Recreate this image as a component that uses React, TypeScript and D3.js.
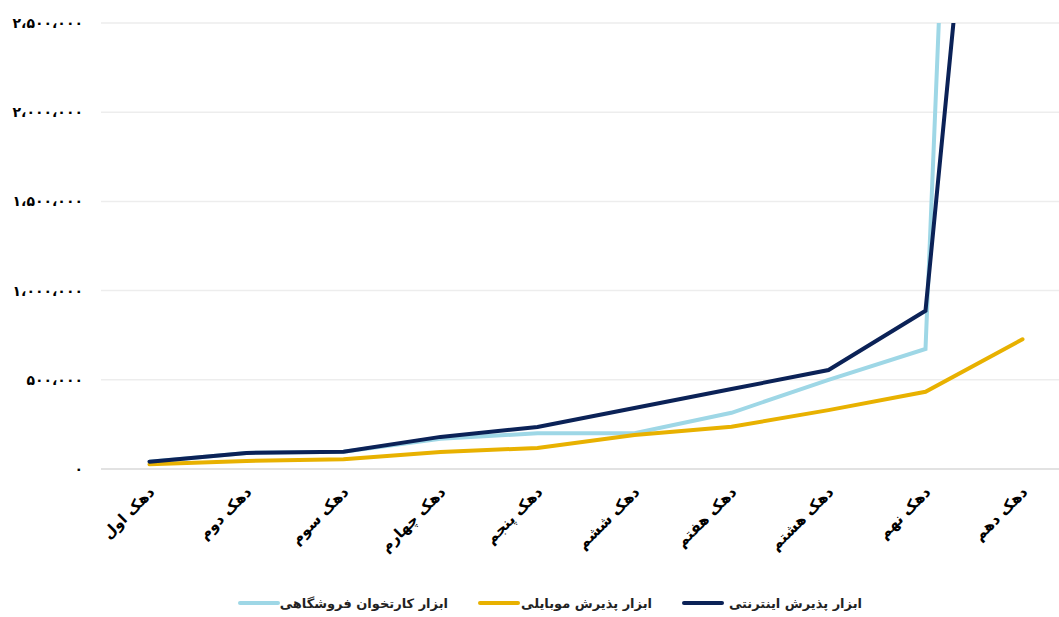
import React from "react";
import * as d3 from "d3";

const categories = [
  "دهک اول",
  "دهک دوم",
  "دهک سوم",
  "دهک چهارم",
  "دهک پنجم",
  "دهک ششم",
  "دهک هفتم",
  "دهک هشتم",
  "دهک نهم",
  "دهک دهم",
];

const cardReader = [40000, 90000, 97000, 170000, 200000, 200000, 315000, 500000, 673000, 14000000];
const mobile = [26000, 45000, 55000, 95000, 118000, 190000, 237000, 330000, 433000, 727000];
const internet = [41000, 90000, 97000, 180000, 235000, 342000, 448000, 555000, 887000, 6490000];

const yTicks = [0, 500000, 1000000, 1500000, 2000000, 2500000];

const seriesNames = ["ابزار کارتخوان فروشگاهی", "ابزار پذیرش موبایلی", "ابزار پذیرش اینترنتی"];
const seriesColors = ["#9ed7e6", "#e8b100", "#0b2257"];

const W = 1059;
const H = 617;
const plotLeft = 101;
const plotRight = 1071;
const plotTop = 23;
const plotBottom = 469;

const persianDigits = "۰۱۲۳۴۵۶۷۸۹";
const fmt = (v: number) =>
  d3
    .format(",")(v)
    .replace(/\d/g, (d) => persianDigits[+d])
    .replace(/,/g, "،");

export default function App() {
  const x = d3
    .scaleBand<string>()
    .domain(categories)
    .range([plotLeft, plotRight]);
  const cx = (c: string) => (x(c) as number) + x.bandwidth() / 2;
  const y = d3.scaleLinear().domain([0, 2500000]).range([plotBottom, plotTop]);

  const line = d3
    .line<number>()
    .x((_, i) => cx(categories[i]))
    .y((d) => y(d));

  const allSeries = [cardReader, mobile, internet];
  const font = "'DejaVu Sans', sans-serif";

  const legendItems = [
    { lineX: 240, textEnd: 448 },
    { lineX: 480, textEnd: 652 },
    { lineX: 684, textEnd: 862 },
  ];

  return (
    <svg
      width={W}
      height={H}
      style={{ position: "absolute", left: 0, top: 0, background: "#fff" }}
    >
      <defs>
        <clipPath id="plotClip">
          <rect x={plotLeft} y={plotTop} width={plotRight - plotLeft} height={plotBottom - plotTop + 10} />
        </clipPath>
      </defs>
      {yTicks.map((t) => (
        <g key={t}>
          <line
            x1={plotLeft}
            x2={W}
            y1={y(t)}
            y2={y(t)}
            stroke={t === 0 ? "#d9d9d9" : "#ededed"}
            strokeWidth={1.5}
          />
          <text
            x={83}
            y={y(t)}
            dy="0.35em"
            textAnchor="end"
            fontFamily={font}
            fontWeight="bold"
            fontSize={14}
            fill="#000"
          >
            {fmt(t)}
          </text>
        </g>
      ))}
      <g clipPath="url(#plotClip)">
        {allSeries.map((s, i) => (
          <path
            key={i}
            d={line(s) as string}
            fill="none"
            stroke={seriesColors[i]}
            strokeWidth={4}
            strokeLinejoin="miter"
            strokeLinecap="round"
          />
        ))}
      </g>
      {categories.map((c) => {
        const px = cx(c) + 6;
        const py = 493;
        return (
          <text
            key={c}
            x={px}
            y={py}
            transform={`rotate(-45 ${px} ${py})`}
            textAnchor="end"
            fontFamily={font}
            fontWeight="bold"
            fontSize={15}
            fill="#000"
          >
            {c}
          </text>
        );
      })}
      {seriesNames.map((n, i) => {
        const it = legendItems[i];
        return (
          <g key={n}>
            <line
              x1={it.lineX}
              x2={it.lineX + 38}
              y1={603}
              y2={603}
              stroke={seriesColors[i]}
              strokeWidth={4}
              strokeLinecap="round"
            />
            <text
              x={it.textEnd}
              y={603}
              dy="0.35em"
              textAnchor="end"
              fontFamily={font}
              fontWeight="bold"
              fontSize={13}
              fill="#222"
            >
              {n}
            </text>
          </g>
        );
      })}
    </svg>
  );
}
